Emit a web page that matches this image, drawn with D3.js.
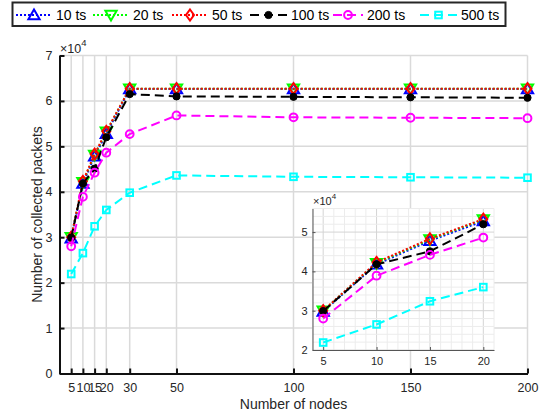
<!DOCTYPE html>
<html><head><meta charset="utf-8">
<script src="https://cdn.jsdelivr.net/npm/d3@7"></script>
<style>body{margin:0;background:#fff}svg{display:block}text{font-family:"Liberation Sans",Arial,sans-serif}</style>
</head><body><svg id="c" width="546" height="420"></svg>
<script>
const nodes = [5, 10, 15, 20, 30, 50, 100, 150, 200];
const ts10  = [29800, 41800, 47800, 52800, 62600, 62600, 62600, 62600, 62600];
const ts20  = [30000, 42100, 48100, 53200, 62700, 62700, 62700, 62700, 62700];
const ts50  = [30000, 42300, 48300, 53300, 62700, 62700, 62700, 62700, 62700];
const ts100 = [29900, 41800, 45100, 52000, 61500, 61000, 60900, 60800, 60700];
const ts200 = [28000, 38900, 44200, 48600, 52700, 56800, 56400, 56300, 56200];
const ts500 = [21900, 26500, 32400, 36000, 39800, 43600, 43300, 43200, 43100];
const seriesNames = ["10 ts", "20 ts", "50 ts", "100 ts", "200 ts", "500 ts"];
const xTicks = [5, 10, 15, 20, 30, 50, 100, 150, 200];
const yTicks = [0, 10000, 20000, 30000, 40000, 50000, 60000, 70000];
const insetXTicks = [5, 10, 15, 20];
const insetYTicks = [20000, 30000, 40000, 50000];

const series = [
  {name: seriesNames[0], v: ts10,  color: "#0000ff", dash: "2,2", marker: "triUp"},
  {name: seriesNames[1], v: ts20,  color: "#00ff00", dash: "2,2", marker: "triDown"},
  {name: seriesNames[2], v: ts50,  color: "#ff0000", dash: "2,2", marker: "diamond"},
  {name: seriesNames[3], v: ts100, color: "#000000", dash: "9,5", marker: "dot"},
  {name: seriesNames[4], v: ts200, color: "#ff00ff", dash: "9,5", marker: "circle"},
  {name: seriesNames[5], v: ts500, color: "#00ffff", dash: "9,5", marker: "square"}
];

const svg = d3.select("#c");
const x = d3.scaleLinear().domain([0, 200]).range([59.5, 527.5]);
const y = d3.scaleLinear().domain([0, 70000]).range([373.5, 55.5]);

function drawMarker(g, type, color, cx, cy, s) {
  s = s || 1;
  if (type === "triUp") {
    g.append("path").attr("d", d3.symbol(d3.symbolTriangle, 55*s)())
      .attr("transform", `translate(${cx},${cy+1})`).attr("fill", "none").attr("stroke", color).attr("stroke-width", 2);
  } else if (type === "triDown") {
    g.append("path").attr("d", d3.symbol(d3.symbolTriangle, 55*s)())
      .attr("transform", `translate(${cx},${cy-1}) rotate(180)`).attr("fill", "none").attr("stroke", color).attr("stroke-width", 2);
  } else if (type === "diamond") {
    const h = 5.5*s, w = 4*s;
    g.append("path").attr("d", `M${cx},${cy-h}L${cx+w},${cy}L${cx},${cy+h}L${cx-w},${cy}Z`)
      .attr("fill", "none").attr("stroke", color).attr("stroke-width", 2);
  } else if (type === "dot") {
    g.append("circle").attr("cx", cx).attr("cy", cy).attr("r", 3.6*s).attr("fill", color).attr("stroke", color);
  } else if (type === "circle") {
    g.append("circle").attr("cx", cx).attr("cy", cy).attr("r", 3.9*s).attr("fill", "none").attr("stroke", color).attr("stroke-width", 2);
  } else if (type === "square") {
    const a = 3.3*s;
    g.append("rect").attr("x", cx-a).attr("y", cy-a).attr("width", 2*a).attr("height", 2*a)
      .attr("fill", "none").attr("stroke", color).attr("stroke-width", 2);
  }
}

// main grid
const grid = svg.append("g");
xTicks.forEach(t => grid.append("line").attr("x1", x(t)).attr("x2", x(t)).attr("y1", y(70000)).attr("y2", y(0))
  .attr("stroke", "#dadada").attr("stroke-width", 1.5));
yTicks.slice(1).forEach(t => grid.append("line").attr("x1", x(0)).attr("x2", x(200)).attr("y1", y(t)).attr("y2", y(t))
  .attr("stroke", "#dadada").attr("stroke-width", 1.5));

// main series
const plot = svg.append("g");
series.forEach(s => {
  const line = d3.line().x((d, i) => x(nodes[i])).y(d => y(d));
  plot.append("path").datum(s.v).attr("d", line).attr("fill", "none").attr("stroke", s.color)
    .attr("stroke-width", 2).attr("stroke-dasharray", s.dash);
  const mg = plot.append("g");
  s.v.forEach((d, i) => drawMarker(mg, s.marker, s.color, x(nodes[i]), y(d)));
});

// main axes
const ax = svg.append("g");
const xAxis = d3.axisBottom(x).tickValues(xTicks).tickSize(-5).tickSizeOuter(0).tickPadding(10);
const gx = ax.append("g").attr("transform", `translate(0,${y(0)})`).call(xAxis);
gx.select(".domain").attr("stroke", "#111").attr("stroke-width", 2);
gx.selectAll(".tick line").attr("stroke", "#111").attr("stroke-width", 2);
gx.selectAll(".tick text").attr("font-size", 12.5).attr("fill", "#262626").attr("font-family", "Liberation Sans, Arial, sans-serif");
const yAxis = d3.axisLeft(y).tickValues(yTicks).tickFormat(d => d / 10000).tickSize(-5).tickSizeOuter(0).tickPadding(7);
const gy = ax.append("g").attr("transform", `translate(${x(0)},0)`).call(yAxis);
gy.select(".domain").attr("stroke", "#111").attr("stroke-width", 2);
gy.selectAll(".tick line").attr("stroke", "#111").attr("stroke-width", 2);
gy.selectAll(".tick text").attr("font-size", 12.5).attr("fill", "#262626").attr("font-family", "Liberation Sans, Arial, sans-serif");

// exponent
const ex = svg.append("text").attr("x", 60).attr("y", 53).attr("font-size", 12.5).attr("fill", "#262626");
ex.append("tspan").text("\u00d710");
ex.append("tspan").attr("dy", -7).attr("font-size", 9.5).text("4");

// axis labels
svg.append("text").attr("x", x(100)).attr("y", 409).attr("text-anchor", "middle").attr("font-size", 14)
  .attr("fill", "#262626").text("Number of nodes");
svg.append("text").attr("transform", `translate(42,${(y(0)+y(70000))/2}) rotate(-90)`).attr("text-anchor", "middle")
  .attr("font-size", 14).attr("fill", "#262626").text("Number of collected packets");

// inset
const ix = d3.scaleLinear().domain([4, 21]).range([312.5, 494]);
const iy = d3.scaleLinear().domain([20000, 56000]).range([350, 208.5]);
const inset = svg.append("g");
inset.append("rect").attr("x", ix(4)).attr("y", iy(56000)).attr("width", ix(21) - ix(4)).attr("height", iy(20000) - iy(56000))
  .attr("fill", "#fff");
d3.range(4, 22).forEach(t => inset.append("line").attr("x1", ix(t)).attr("x2", ix(t)).attr("y1", iy(56000)).attr("y2", iy(20000))
  .attr("stroke", insetXTicks.includes(t) ? "#d4d4d4" : "#ececec").attr("stroke-width", 1));
d3.range(20000, 56001, 2000).forEach(t => inset.append("line").attr("x1", ix(4)).attr("x2", ix(21)).attr("y1", iy(t)).attr("y2", iy(t))
  .attr("stroke", insetYTicks.includes(t) ? "#d4d4d4" : "#ececec").attr("stroke-width", 1));
inset.append("clipPath").attr("id", "ic").append("rect").attr("x", ix(4)).attr("y", iy(56000))
  .attr("width", ix(21) - ix(4)).attr("height", iy(20000) - iy(56000));
const ip = inset.append("g").attr("clip-path", "url(#ic)");
series.forEach(s => {
  const vals = s.v.slice(0, 4);
  const line = d3.line().x((d, i) => ix(nodes[i])).y(d => iy(d));
  ip.append("path").datum(vals).attr("d", line).attr("fill", "none").attr("stroke", s.color)
    .attr("stroke-width", 2).attr("stroke-dasharray", s.dash);
  const mg = ip.append("g");
  vals.forEach((d, i) => drawMarker(mg, s.marker, s.color, ix(nodes[i]), iy(d)));
});
const ixAxis = d3.axisBottom(ix).tickValues(insetXTicks).tickSize(-3).tickSizeOuter(0).tickPadding(7);
const igx = inset.append("g").attr("transform", `translate(0,${iy(20000)})`).call(ixAxis);
igx.select(".domain").attr("stroke", "#555").attr("stroke-width", 1);
igx.selectAll(".tick line").attr("stroke", "#555");
igx.selectAll(".tick text").attr("font-size", 11).attr("fill", "#262626").attr("font-family", "Liberation Sans, Arial, sans-serif");
const iyAxis = d3.axisLeft(iy).tickValues(insetYTicks).tickFormat(d => d / 10000).tickSize(-3).tickSizeOuter(0).tickPadding(5);
const igy = inset.append("g").attr("transform", `translate(${ix(4)},0)`).call(iyAxis);
igy.select(".domain").attr("stroke", "#555").attr("stroke-width", 1);
igy.selectAll(".tick line").attr("stroke", "#555");
igy.selectAll(".tick text").attr("font-size", 11).attr("fill", "#262626").attr("font-family", "Liberation Sans, Arial, sans-serif");
const iex = svg.append("text").attr("x", 313).attr("y", 205).attr("font-size", 11).attr("fill", "#262626");
iex.append("tspan").text("\u00d710");
iex.append("tspan").attr("dy", -6).attr("font-size", 8).text("4");

// legend
const leg = svg.append("g");
leg.append("rect").attr("x", 12.5).attr("y", 2.5).attr("width", 493).attr("height", 23.5)
  .attr("fill", "#fff").attr("stroke", "#262626").attr("stroke-width", 2);
const legX = [16, 93, 172, 250, 333, 420];
const legLen = [36, 36, 36, 37, 30, 37];
series.forEach((s, i) => {
  const x0 = legX[i], x1 = legX[i] + legLen[i], ly = 15;
  leg.append("line").attr("x1", x0).attr("x2", x1).attr("y1", ly).attr("y2", ly)
    .attr("stroke", s.color).attr("stroke-width", 2).attr("stroke-dasharray", s.dash);
  drawMarker(leg, s.marker, s.color, (x0 + x1) / 2, ly);
  leg.append("text").attr("x", x1 + 4).attr("y", ly + 5).attr("font-size", 14).attr("fill", "#000").text(s.name);
});
</script></body></html>
